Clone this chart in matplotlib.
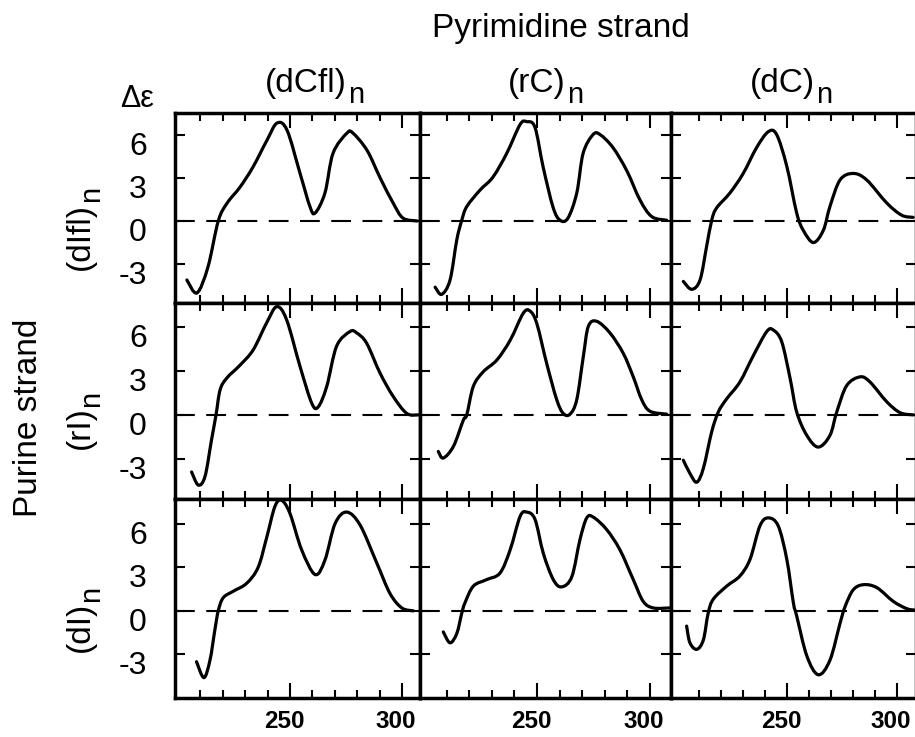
import matplotlib
matplotlib.use("Agg")
import numpy as np
import matplotlib.pyplot as plt
from matplotlib import transforms
from matplotlib.text import Annotation
from matplotlib.path import Path
from matplotlib.patches import PathPatch

plt.rcParams["font.family"] = ["Liberation Sans", "DejaVu Sans"]

# CD spectra, wavelength (nm) vs delta-epsilon; rows = purine strand, cols = pyrimidine strand
WL_DIFL_DCFL = [204, 208.5, 213.4, 218, 222, 227.7, 233.5, 239.7, 244.2, 248.7, 254.5, 258.9, 261.2,
                265.6, 269.2, 275.4, 278.1, 284.4, 290.2, 296, 300.4, 306.7]
DE_DIFL_DCFL = [-4.1, -5.0, -3.2, 0.0, 1.25, 2.35, 3.75, 5.6, 6.8, 6.3, 3.3, 1.0, 0.55,
                1.95, 4.7, 6.1, 6.1, 4.9, 3.0, 1.25, 0.2, 0.0]

WL_DIFL_RC = [204.9, 207.8, 211.5, 214.5, 216.7, 218.9, 224.8, 230.5, 236.6, 242.5, 245.4, 249.1, 252.7,
              257.1, 260.2, 263.7, 267.6, 270.4, 274.8, 277.9, 283.6, 289.7, 295.6, 300.8, 307.4]
DE_DIFL_RC = [-4.6, -5.1, -4.1, -1.3, 0.05, 1.0, 2.15, 3.05, 4.7, 6.7, 6.9, 6.5, 3.75,
              0.95, 0.05, 0.2, 1.95, 4.7, 6.0, 6.0, 5.1, 3.5, 1.45, 0.3, 0.05]

WL_DIFL_DC = [202.9, 206.7, 210.5, 213.5, 215.8, 218, 224.1, 230.1, 236.2, 241.5, 245.3, 249.9, 254.4,
              257.4, 262, 266.5, 269.5, 274.1, 280.1, 286.2, 295.3, 302.1, 307.3]
DE_DIFL_DC = [-4.2, -4.75, -4.1, -1.75, 0.05, 0.9, 1.95, 3.3, 5.1, 6.2, 6.0, 3.8, 0.55,
              -0.65, -1.5, -0.65, 1.0, 2.85, 3.3, 2.85, 1.25, 0.4, 0.25]

WL_RI_DCFL = [206.1, 209.1, 212.1, 215, 217, 218.8, 221.7, 227.7, 233.6, 239.6, 244.1, 248.5, 254.5,
              259.7, 262.6, 266.4, 270.8, 276.8, 279.8, 284.2, 290.2, 296.1, 302.1, 307.3]
DE_RI_DCFL = [-3.9, -4.8, -4.2, -1.7, 0.0, 1.7, 2.5, 3.4, 4.45, 6.3, 7.4, 6.5, 3.3,
              0.8, 0.55, 1.95, 4.7, 5.7, 5.6, 4.9, 2.85, 1.25, 0.1, 0.0]

WL_RI_RC = [206.3, 208.5, 213, 217.4, 218.9, 221.8, 226.2, 232.2, 238.1, 243.9, 246.9, 249.9, 254.3,
            258.7, 261.6, 264.6, 267.6, 270.5, 272.7, 276.4, 282.3, 288.2, 292.6, 296.3, 300, 307.4]
DE_RI_RC = [-2.5, -2.95, -2.15, -0.35, 0.0, 1.95, 2.95, 3.75, 5.1, 6.95, 7.1, 6.25, 3.5,
            1.05, 0.1, 0.05, 1.05, 4.0, 6.05, 6.4, 5.6, 4.2, 2.6, 1.05, 0.25, 0.05]

WL_RI_DC = [202.9, 205.9, 209, 212, 215.8, 218.8, 222.6, 228.6, 234.7, 240.8, 243.8, 247.6, 251.4,
            254.4, 259, 264.2, 269.5, 272.6, 277.1, 283.2, 287.7, 295.3, 301.4, 307.4]
DE_RI_DC = [-3.1, -4.0, -4.6, -3.65, -1.15, 0.2, 1.1, 2.25, 4.05, 5.7, 5.8, 5.0, 2.5,
            0.2, -1.4, -2.2, -1.4, 0.2, 2.0, 2.6, 2.25, 0.9, 0.15, 0.0]

WL_DI_DCFL = [208.3, 211.6, 214.3, 216.5, 218, 220.2, 224.7, 230.7, 235.8, 239.6, 243.3, 246.3, 250,
              255.2, 261.2, 265.6, 270.1, 275.3, 281.3, 288.7, 294.6, 299.9, 305]
DE_DI_DCFL = [-3.5, -4.6, -3.4, -1.3, 0.0, 0.9, 1.35, 1.9, 3.0, 5.05, 7.2, 7.6, 6.7,
              4.2, 2.5, 3.5, 6.0, 6.8, 5.9, 3.3, 1.2, 0.2, 0.0]

WL_DI_RC = [208.5, 211.5, 214.5, 216.7, 218.1, 221.8, 227.7, 233.6, 238.1, 242.5, 245.4, 249.1, 252.8,
            257.2, 260.9, 265.4, 269, 272, 274.9, 280.8, 286.7, 292.6, 297, 301.5, 308.5]
DE_DI_RC = [-1.45, -2.2, -1.55, -0.15, 0.55, 1.7, 2.15, 2.6, 4.2, 6.5, 6.8, 6.3, 3.95,
            2.15, 1.65, 2.35, 4.9, 6.4, 6.45, 5.6, 4.2, 2.15, 0.65, 0.2, 0.2]

WL_DI_DC = [204.4, 205.9, 209, 212, 214.2, 216.5, 222.6, 228.6, 233.2, 237.7, 241.5, 246, 249.9,
            252.9, 254.4, 259, 264.2, 269.5, 274.1, 276.4, 280.1, 284.7, 290.8, 298.3, 304.4, 308.2]
DE_DI_DC = [-1.05, -2.2, -2.65, -2.0, -0.15, 0.8, 1.7, 2.4, 3.55, 5.85, 6.4, 5.85, 3.55,
            0.55, -0.35, -3.1, -4.4, -3.4, -0.85, 0.3, 1.45, 1.8, 1.6, 0.65, 0.15, 0.05]

SPECTRA = [
    [(WL_DIFL_DCFL, DE_DIFL_DCFL), (WL_DIFL_RC, DE_DIFL_RC), (WL_DIFL_DC, DE_DIFL_DC)],
    [(WL_RI_DCFL, DE_RI_DCFL), (WL_RI_RC, DE_RI_RC), (WL_RI_DC, DE_RI_DC)],
    [(WL_DI_DCFL, DE_DI_DCFL), (WL_DI_RC, DE_DI_RC), (WL_DI_DC, DE_DI_DC)],
]

ROW_LABELS = ["(dIfl)", "(rI)", "(dI)"]
COL_LABELS = ["(dCfl)", "(rC)", "(dC)"]
Y_TICKS = [-3, 0, 3, 6]
X_MAJOR = [250, 300]
X_MINOR = [210, 220, 230, 240, 260, 270, 280, 290]

W, H = 915, 737
fig = plt.figure(figsize=(W / 100, H / 100), dpi=100)

# panel edges in pixels
COL_PX = [175, 420, 671, 916]
ROW_PX = [113, 303, 499, 698]
XLIMS = [(198.7, 308.0), (198.2, 309.3), (197.3, 308.6)]
YLIMS = [(-5.7, 7.5), (-5.75, 7.65), (-6.0, 7.7)]


def fx(px):
    return px / W


def fy(py):
    return 1 - py / H


def smooth_path(xs, ys):
    # Catmull-Rom through the measured points, written as cubic Bezier segments
    p = np.column_stack([xs, ys]).astype(float)
    verts = [p[0]]
    codes = [Path.MOVETO]
    for i in range(len(p) - 1):
        p0 = p[i - 1] if i > 0 else p[i]
        p1, p2 = p[i], p[i + 1]
        p3 = p[i + 2] if i + 2 < len(p) else p[i + 1]
        verts += [p1 + (p2 - p0) / 6, p2 - (p3 - p1) / 6, p2]
        codes += [Path.CURVE4] * 3
    return Path(verts, codes)


def sub_n(main, size, rotated=False):
    # the "n" subscript sits after the closing bracket, nearly full size
    if rotated:
        ann = Annotation("n", xy=(1, 1), xycoords=main, xytext=(7, 0),
                         textcoords="offset points", rotation=90,
                         ha="right", va="bottom", fontsize=size)
    else:
        ann = Annotation("n", xy=(1, 0), xycoords=main, xytext=(1, -3),
                         textcoords="offset points",
                         ha="left", va="baseline", fontsize=size)
    fig.add_artist(ann)


for r in range(3):
    for c in range(3):
        left, right = COL_PX[c], COL_PX[c + 1]
        top, bottom = ROW_PX[r], ROW_PX[r + 1]
        ax = fig.add_axes([fx(left), fy(bottom), fx(right - left), (bottom - top) / H])
        wl, de = SPECTRA[r][c]
        ax.add_patch(PathPatch(smooth_path(wl, de), fill=False, edgecolor="black",
                               lw=2.3, joinstyle="round", capstyle="round"))
        ax.axhline(0, color="black", lw=1.5, dashes=(9.5, 5.5))
        ax.set_xlim(*XLIMS[c])
        ax.set_ylim(*YLIMS[r])

        ax.set_xticks(X_MAJOR)
        ax.set_xticks(X_MINOR, minor=True)
        ax.set_yticks(Y_TICKS)
        ax.tick_params(which="both", direction="in", top=True, right=True,
                       labelbottom=False, labelleft=False, width=1.5, color="black")
        ax.tick_params(axis="x", which="major", length=11)
        ax.tick_params(axis="x", which="minor", length=6)
        ax.tick_params(axis="y", length=7.5)
        for sp in ax.spines.values():
            sp.set_linewidth(2.5)

        if c == 0:
            tr = transforms.blended_transform_factory(ax.transAxes, ax.transData) + \
                transforms.ScaledTranslation(-0.28, -0.12, fig.dpi_scale_trans)
            for v in Y_TICKS:
                ax.text(0, v, f"{v}", transform=tr, ha="right", va="center",
                        fontsize=23)
        if r == 2:
            tr = transforms.blended_transform_factory(ax.transData, ax.transAxes) + \
                transforms.ScaledTranslation(-0.06, -0.115, fig.dpi_scale_trans)
            for v in X_MAJOR:
                ax.text(v, 0, f"{v}", transform=tr, ha="center", va="top",
                        fontsize=17.5, fontweight="bold")

# column headers
fig.text(fx(561), fy(28), "Pyrimidine strand", ha="center", va="center", fontsize=24)
for x, lab in zip([306, 537, 782], COL_LABELS):
    t = fig.text(fx(x), fy(92), lab, ha="center", va="baseline", fontsize=24)
    sub_n(t, 21)

# row headers
fig.text(fx(29), fy(418), "Purine strand", ha="center", va="center",
         rotation=90, fontsize=24)
for y, lab in zip([236, 428, 627], ROW_LABELS):
    t = fig.text(fx(80), fy(y), lab, ha="center", va="center", rotation=90, fontsize=24)
    sub_n(t, 21, rotated=True)

fig.text(fx(137), fy(99), "\u0394\u03b5", ha="center", va="center", fontsize=22)

fig.savefig("out.png", dpi=100)
